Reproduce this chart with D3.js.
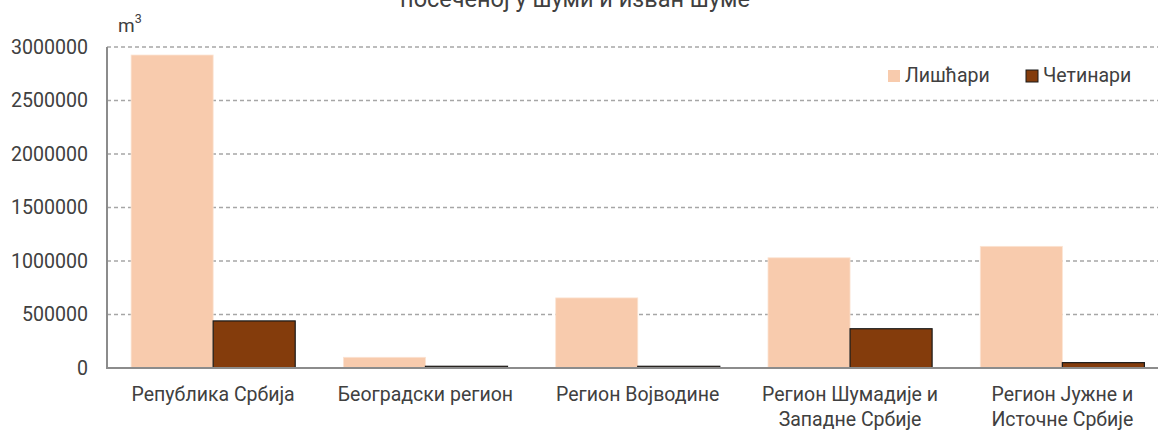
<!DOCTYPE html>
<html>
<head>
<meta charset="utf-8">
<script src="https://cdn.jsdelivr.net/npm/d3@7"></script>
<style>
  body { margin: 0; background: #fff; }
  svg { display: block; font-family: Roboto, "Noto Sans", sans-serif; }
  .tick text { fill: #404040; }
</style>
</head>
<body>
<div id="chart"></div>
<script>
// Data
const categories = ["Република Србија", "Београдски регион", "Регион Војводине",
                    "Регион Шумадије и Западне Србије", "Регион Јужне и Источне Србије"];
const seriesNames = ["Лишћари", "Четинари"];
const listcari = [2925000, 100000, 655000, 1030000, 1137000];
const cetinari = [440000, 16000, 16000, 367000, 50000];
const yTicks = [0, 500000, 1000000, 1500000, 2000000, 2500000, 3000000];
const titleLine = "посеченој у шуми и изван шуме";

const width = 1158, height = 432;
const colors = ["#F8CBAD", "#843C0C"];

const svg = d3.select("#chart").append("svg")
    .attr("width", width).attr("height", height);

// plot area (right edge runs past the picture, as in the reference crop)
const plotLeft = 107, plotRight = 1168.5, plotTop = 47, plotBottom = 368;

const x0 = d3.scaleBand().domain(categories).range([plotLeft, plotRight])
    .paddingInner(0.227).paddingOuter(0.1135);
const x1 = d3.scaleBand().domain(seriesNames).range([0, x0.bandwidth()]);
const y = d3.scaleLinear().domain([0, 3000000]).range([plotBottom, plotTop]);

/* title (only its lower line is visible, the reference is cropped there) */
svg.append("text").text(titleLine)
    .attr("x", 575).attr("y", 7)
    .attr("text-anchor", "middle")
    .attr("font-size", 23.5).attr("fill", "#404040");

/* gridlines */
svg.append("g").selectAll("line")
    .data(yTicks.filter(d => d > 0))
    .join("line")
        .attr("x1", plotLeft).attr("x2", plotRight)
        .attr("y1", d => y(d)).attr("y2", d => y(d))
        .attr("stroke", "#a6a6a6").attr("stroke-width", 1.3)
        .attr("stroke-dasharray", "4,3");

/* bars */
const data = categories.map((c, i) => ({cat: c, values: [listcari[i], cetinari[i]]}));
const groups = svg.append("g").selectAll("g")
    .data(data)
    .join("g")
        .attr("transform", d => `translate(${x0(d.cat)},0)`);

groups.selectAll("rect")
    .data(d => d.values.map((v, k) => ({s: seriesNames[k], v, k})))
    .join("rect")
        .attr("x", d => x1(d.s))
        .attr("y", d => y(d.v))
        .attr("width", x1.bandwidth())
        .attr("height", d => plotBottom - y(d.v))
        .attr("fill", d => colors[d.k])
        .attr("stroke", d => d.k === 1 ? "#1a1a1a" : "#fbe3d2")
        .attr("stroke-width", d => d.k === 1 ? 1.2 : 0.8);

/* axes */
const leftAxis = d3.axisLeft(y).tickValues(yTicks).tickSize(0).tickPadding(19)
    .tickFormat(d3.format("d"));
svg.append("g")
    .attr("transform", `translate(${plotLeft},0)`)
    .call(leftAxis)
    .call(g => g.select(".domain").remove())
    .call(g => g.selectAll("text").attr("font-size", 19.6).attr("font-family", "Roboto"));

svg.append("line")
    .attr("x1", plotLeft).attr("x2", plotLeft)
    .attr("y1", plotTop).attr("y2", plotBottom)
    .attr("stroke", "#8c8c8c").attr("stroke-width", 2);
svg.append("line")
    .attr("x1", plotLeft - 1).attr("x2", plotRight)
    .attr("y1", plotBottom).attr("y2", plotBottom)
    .attr("stroke", "#8c8c8c").attr("stroke-width", 2);

/* category labels, wrapped */
const labels = svg.append("g").selectAll("text")
    .data(categories)
    .join("text")
        .attr("x", d => x0(d) + x0.bandwidth() / 2)
        .attr("y", 401)
        .attr("text-anchor", "middle")
        .attr("font-size", 19.5).attr("fill", "#404040");

labels.each(function(d) {
    const t = d3.select(this);
    const words = d.split(" ");
    let line = [];
    let tspan = t.append("tspan").attr("x", t.attr("x")).attr("dy", 0);
    words.forEach(w => {
        line.push(w);
        tspan.text(line.join(" "));
        if (tspan.node().getComputedTextLength() > 195 && line.length > 1) {
            line.pop();
            tspan.text(line.join(" "));
            line = [w];
            tspan = t.append("tspan").attr("x", t.attr("x")).attr("dy", 25).text(w);
        }
    });
});

/* unit label */
const unit = svg.append("text").attr("x", 118).attr("y", 32)
    .attr("font-size", 19).attr("fill", "#404040");
unit.append("tspan").text("m");
unit.append("tspan").text("3").attr("font-size", 12.5).attr("dy", -9);

/* legend */
const legendX = [888, 1026];
const legend = svg.append("g").selectAll("g")
    .data(seriesNames)
    .join("g")
        .attr("transform", (d, i) => `translate(${legendX[i]},70)`);
legend.append("rect")
    .attr("width", 12).attr("height", 12)
    .attr("fill", (d, i) => colors[i])
    .attr("stroke", (d, i) => i === 1 ? "#1a1a1a" : "none");
legend.append("text").text(d => d)
    .attr("x", 17).attr("y", 12)
    .attr("font-size", 19.5).attr("fill", "#404040");
</script>
</body>
</html>
